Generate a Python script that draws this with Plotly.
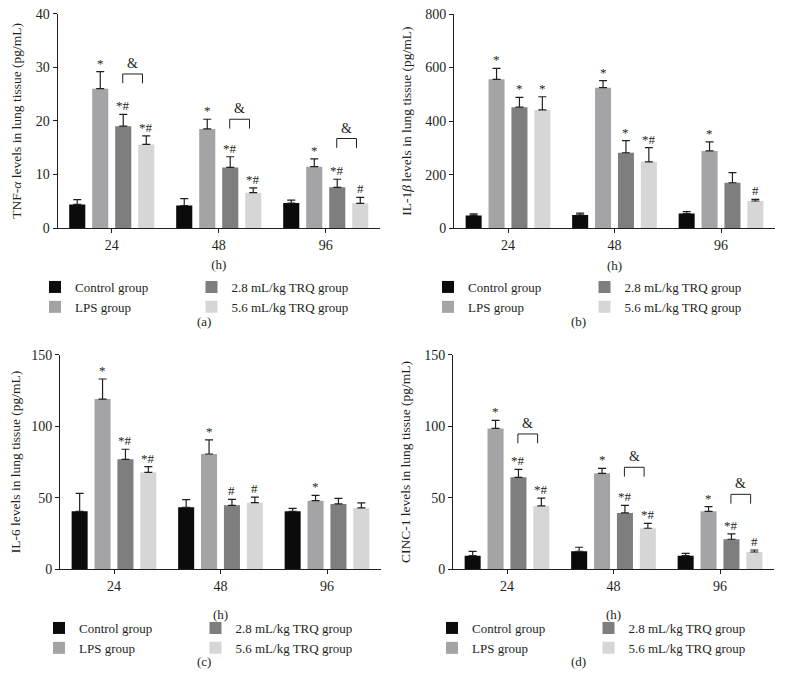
import plotly.graph_objects as go

# ---------------- data ----------------
hours = ["24", "48", "96"]
groups = ["Control group", "LPS group", "2.8 mL/kg TRQ group", "5.6 mL/kg TRQ group"]
colors = ["#0b0b0b", "#a4a4a7", "#7e7e7e", "#d6d6d6"]

# (a) TNF-alpha
tnf_mean = [[4.4, 4.2, 4.65], [26.0, 18.5, 11.45], [19.0, 11.3, 7.6], [15.6, 6.6, 4.6]]
tnf_err = [[0.9, 1.3, 0.55], [3.2, 1.8, 1.45], [2.2, 2.0, 1.5], [1.6, 0.9, 1.1]]
tnf_sig = [["", "", ""], ["*", "*", "*"], ["*#", "*#", "*#"], ["*#", "*#", "#"]]
tnf_bracket = [28.75, 20.3, 16.7]

# (b) IL-1beta
il1_mean = [[48, 50, 55], [556, 525, 289], [452, 282, 170], [442, 248, 102]]
il1_err = [[6, 7, 7], [41, 26, 34], [37, 45, 38], [49, 53, 6]]
il1_sig = [["", "", ""], ["*", "*", "*"], ["*", "*", ""], ["*", "*#", "#"]]
il1_bracket = [None, None, None]

# (c) IL-6
il6_mean = [[40.5, 43.3, 40.5], [119.0, 80.6, 48.0], [76.9, 44.7, 45.7], [67.8, 46.6, 42.9]]
il6_err = [[12.6, 5.4, 2.1], [14.0, 9.8, 3.7], [7.0, 4.2, 3.9], [3.9, 3.9, 3.5]]
il6_sig = [["", "", ""], ["*", "*", "*"], ["*#", "#", ""], ["*#", "#", ""]]
il6_bracket = [None, None, None]

# (d) CINC-1
cinc_mean = [[9.55, 12.6, 9.55], [98.5, 67.1, 40.5], [64.3, 39.4, 21.0], [44.3, 28.7, 12.1]]
cinc_err = [[3.0, 2.8, 1.6], [5.6, 3.5, 3.3], [5.6, 5.3, 3.7], [5.5, 3.4, 1.4]]
cinc_sig = [["", "", ""], ["*", "*", "*"], ["*#", "*#", "*#"], ["*#", "*#", "#"]]
cinc_bracket = [94.6, 71.3, 52.4]

y_titles = ["TNF-<i>α</i> levels in lung tissue (pg/mL)",
            "IL-1<i>β</i> levels in lung tissue (pg/mL)",
            "IL-6 levels in lung tissue (pg/mL)",
            "CINC-1 levels in lung tissue (pg/mL)"]
y_ranges = [40, 800, 150, 150]
y_dticks = [10, 200, 50, 50]
panel_labels = ["(a)", "(b)", "(c)", "(d)"]

# ---------------- layout geometry ----------------
# the page body has an 8 px default margin, so the figure is drawn at (8, 8)
OFF = 8
W, H = 786 - OFF, 698 - OFF
FONT = "Liberation Serif, Times New Roman, serif"
TXT = "#231f20"
BARGAP, GROUPGAP = 0.14, 0.3


def px_x(v):
    return (v - OFF) / W


def px_y(v):
    return 1 - (v - OFF) / H


panels = [
    dict(mean=tnf_mean, err=tnf_err, sig=tnf_sig, br=tnf_bracket,
         xd=(57.5, 380), yd=(228, 13.7), leg=(35, 191.5, 272), lab=(195, 321), h_stand=8),
    dict(mean=il1_mean, err=il1_err, sig=il1_sig, br=il1_bracket,
         xd=(454, 775), yd=(228.3, 14), leg=(428, 584.5, 272), lab=(588, 321), h_stand=8),
    dict(mean=il6_mean, err=il6_err, sig=il6_sig, br=il6_bracket,
         xd=(60, 381), yd=(569.3, 354.7), leg=(39, 195.5, 613), lab=(195, 671), h_stand=16),
    dict(mean=cinc_mean, err=cinc_err, sig=cinc_sig, br=cinc_bracket,
         xd=(453, 774), yd=(569.3, 354.7), leg=(432, 588.5, 613), lab=(588, 671), h_stand=16),
]

fig = go.Figure()
annotations = []
shapes = []
slot = (1 - BARGAP) / 4
offsets = [-(1 - BARGAP) / 2 + slot * (g + 0.5) for g in range(4)]

for p, P in enumerate(panels):
    sfx = "" if p == 0 else str(p + 1)
    xa, ya = "x" + sfx, "y" + sfx
    left_leg = "legend" if p == 0 else "legend" + str(2 * p + 1)
    right_leg = "legend" + str(2 * p + 2)
    for g in range(4):
        legname = left_leg if g < 2 else right_leg
        fig.add_trace(go.Bar(
            x=[0, 1, 2], y=P["mean"][g], name=groups[g],
            marker=dict(color=colors[g], line=dict(width=0)),
            error_y=dict(type="data", array=P["err"][g], arrayminus=[0, 0, 0],
                         symmetric=False, color=TXT, thickness=1.2, width=4),
            xaxis=xa, yaxis=ya, legend=legname,
            showlegend=True, hoverinfo="skip"))
        for i in range(3):
            if P["sig"][g][i]:
                annotations.append(dict(
                    x=i + offsets[g], y=P["mean"][g][i] + P["err"][g][i],
                    xref=xa, yref=ya, text=P["sig"][g][i], showarrow=False,
                    yanchor="bottom", yshift=-1, font=dict(family=FONT, size=13, color=TXT)))
    leg_len = 0.0435 * y_ranges[p]
    for i in range(3):
        b = P["br"][i]
        if b is None:
            continue
        x0 = i + offsets[2] - 0.005
        x1 = i + offsets[3] - 0.035
        shapes.append(dict(type="path", xref=xa, yref=ya,
                           path=f"M {x0} {b - leg_len} L {x0} {b} L {x1} {b} L {x1} {b - leg_len}",
                           line=dict(color=TXT, width=1)))
        annotations.append(dict(x=(x0 + x1) / 2, y=b, xref=xa, yref=ya, text="&",
                                showarrow=False, yanchor="bottom", yshift=1,
                                font=dict(family=FONT, size=14, color=TXT)))
    annotations.append(dict(x=px_x(P["lab"][0]), y=px_y(P["lab"][1]), xref="paper", yref="paper",
                            text=panel_labels[p], showarrow=False,
                            font=dict(family=FONT, size=13, color=TXT)))

    axis_common = dict(showline=True, linecolor=TXT, linewidth=1, ticks="outside",
                       ticklen=4, tickcolor=TXT, tickwidth=1, showgrid=False, zeroline=False,
                       automargin=False, ticklabeloverflow="allow",
                       tickfont=dict(family=FONT, size=14, color=TXT))
    fig.layout["xaxis" + sfx] = dict(
        axis_common, domain=[px_x(P["xd"][0]), px_x(P["xd"][1])], anchor=ya,
        tickvals=[0, 1, 2], ticktext=hours, range=[-0.507, 2.507],
        title=dict(text="(h)", standoff=P["h_stand"], font=dict(family=FONT, size=13, color=TXT)))
    fig.layout["yaxis" + sfx] = dict(
        axis_common, domain=[px_y(P["yd"][0]), px_y(P["yd"][1])], anchor=xa,
        range=[0, y_ranges[p]], dtick=y_dticks[p], tick0=0,
        title=dict(text=y_titles[p], standoff=10, font=dict(family=FONT, size=13.5, color=TXT)))
    for lname, lx in ((left_leg, P["leg"][0]), (right_leg, P["leg"][1])):
        fig.layout[lname] = dict(
            orientation="v", x=px_x(lx), y=px_y(P["leg"][2]), xanchor="left", yanchor="top",
            bgcolor="rgba(0,0,0,0)", borderwidth=0, tracegroupgap=0,
            font=dict(family=FONT, size=13, color=TXT), traceorder="normal", itemclick=False)

fig.update_layout(
    width=W, height=H, margin=dict(l=0, r=0, t=0, b=0, autoexpand=False),
    paper_bgcolor="white", plot_bgcolor="white",
    barmode="group", bargap=BARGAP, bargroupgap=GROUPGAP,
    annotations=annotations, shapes=shapes,
    font=dict(family=FONT, color=TXT),
)

fig.write_html("out.html")
